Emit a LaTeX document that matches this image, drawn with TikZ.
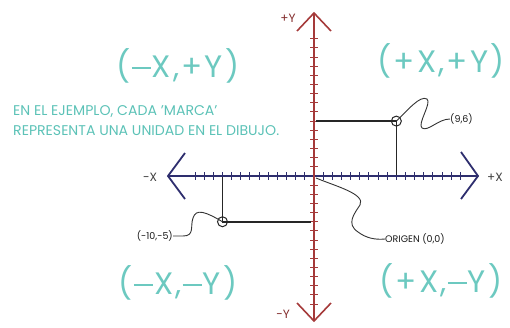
\documentclass[tikz,border=0pt]{standalone}
\usepackage{fontspec}
\setmainfont{Poppins}
\newfontfamily\quadfont[LetterSpace=7]{Poppins}
\newcommand{\mn}{\setbox0\hbox{+}\makebox[\wd0]{\rule[\dimexpr(\ht0-\dp0)/2-0.037em\relax]{0.9\wd0}{0.074em}}}
\begin{document}
\begin{tikzpicture}[x=1pt,y=-1pt,
  xaxis/.style={draw=axnavy,line width=1.8pt,line join=miter},
  yaxis/.style={draw=axred,line width=1.6pt,line join=miter},
  xtick/.style={draw=axnavy,line width=1pt},
  ytick/.style={draw=axred,line width=1pt},
  guide/.style={draw=black!85,line width=1.5pt},
  lead/.style={draw=black!80,line width=0.9pt},
  quad/.style={text=quadteal,font=\quadfont\fontsize{31}{34}\selectfont,inner sep=0pt},
  note/.style={text=noteteal,font=\fontsize{14.1}{16}\selectfont,inner sep=0pt,anchor=west},
  axlab/.style={font=\fontsize{12}{14}\selectfont,inner sep=0pt},
  ptlab/.style={text=black!90,font=\fontsize{9.5}{11}\selectfont,inner sep=0pt}
]
\definecolor{axnavy}{HTML}{2E2E6E}
\definecolor{axred}{HTML}{A53A3A}
\definecolor{quadteal}{HTML}{6CC9C0}
\definecolor{noteteal}{HTML}{5CC2B7}
\useasboundingbox (0,0) rectangle (510,327);
\def\u{9.15}
\coordinate (O) at (314,176);
% ticks
\foreach \i in {-13,...,-1,1,2,...,16} \draw[xtick] (314+\i*\u,172) -- (314+\i*\u,180);
\foreach \j in {-15,...,-1,1,2,...,14} \draw[ytick] (310,176+\j*\u) -- (318,176+\j*\u);
% axes
\coordinate (xl) at (168,176);
\coordinate (xr) at (478,176);
\coordinate (yt) at (314,13);
\coordinate (yb) at (314,321);
\draw[xaxis] (xl) -- (xr);
\draw[xaxis] (185,153) -- (xl) -- (185,199);
\draw[xaxis] (461,152) -- (xr) -- (461,199);
\draw[yaxis] (yt) -- (yb);
\draw[yaxis] (297,31) -- (yt) -- (331,31);
\draw[yaxis] (297,303) -- (yb) -- (331,303);
% axis labels
\node[axlab,text=axred!80!black] (py) at (288,18) {+Y};
\node[axlab,text=axred!80!black] (my) at (283,314) {−Y};
\node[axlab,text=black!75] (mx) at (150,177) {−X};
\node[axlab,text=black!75] (px) at (495,177) {+X};
% points
\coordinate (A) at (314+9*\u,176-6*\u);
\coordinate (B) at (314-10*\u,176+5*\u);
\draw[guide] (316,176-6*\u) -- (A) -- (314+9*\u,175);
\draw[guide] (314-10*\u,177) -- (B) -- (311,176+5*\u);
\draw[black!85,line width=1pt] (A) circle (5);
\draw[black!85,line width=1pt] (B) circle (5);
% labels with leaders
\node[ptlab,anchor=west] (la) at (450,119) {(9,6)};
\node[ptlab,anchor=east] (lb) at (173,236) {(-10,-5)};
\node[ptlab,anchor=west] (lo) at (385,239) {ORIGEN (0,0)};
\draw[lead] (A) .. controls (408,110) and (420,95) .. (427,99)
  .. controls (432,103) and (417,124) .. (422,128)
  .. controls (428,132) and (438,119) .. (la.west);
\draw[lead] (lb.east) -- (183,236) .. controls (195,236) and (190,226) .. (193,218)
  .. controls (196,208) and (206,212) .. (B);
\draw[lead] (316,178) .. controls (335,186) and (366,194) .. (360,205)
  .. controls (354,214) and (346,224) .. (358,232)
  .. controls (366,238) and (375,240) .. (lo.west);
% quadrant labels
\node[quad] (q1) at (178,66) {(\mn X,+Y)};
\node[quad] (q2) at (441,61) {(+X,+Y)};
\node[quad] (q3) at (178,283) {(\mn X,\mn Y)};
\node[quad] (q4) at (441,281) {(+X,\mn Y)};
% note
\node[note] (n1) at (13,112) {EN EL EJEMPLO, CADA 'MARCA'};
\node[note] (n2) at (13,131) {REPRESENTA UNA UNIDAD EN EL DIBUJO.};
\end{tikzpicture}
\end{document}
